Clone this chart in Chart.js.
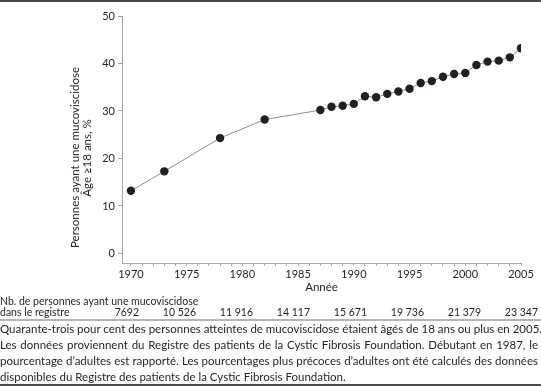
<!DOCTYPE html>
<html>
<head>
<meta charset="utf-8">
<script src="https://cdn.jsdelivr.net/npm/chart.js@4/dist/chart.umd.min.js"></script>
<style>
  html, body { margin: 0; padding: 0; background: #fff; }
  body { width: 541px; height: 386px; position: relative; overflow: hidden;
         font-family: "Lato", "Open Sans", sans-serif; color: #231f20; }
  #topline { position: absolute; left: 0; top: 0; width: 541px; height: 2px; background: #4a4a4a; }
  #wrap { position: absolute; left: 0; top: 0; width: 541px; height: 296px; }
  #ytitle { position: absolute; left: -9px; top: 146px; width: 180px; height: 24px;
            transform: rotate(-90deg); transform-origin: 90px 12px;
            white-space: nowrap; text-align: center; font-size: 11.5px; line-height: 12px; }
  .tbl { position: absolute; font-size: 10.5px; white-space: nowrap; line-height: 12px; }
  #sep { position: absolute; left: 0; top: 319px; width: 541px; height: 2px; background: #b5b5b5; }
  #para { position: absolute; left: 0; top: 321px; width: 538px; font-size: 11.5px; line-height: 16px; }
  #para div { text-align: justify; text-align-last: justify; white-space: nowrap; }
  #para div.last { text-align: left; text-align-last: left; }
  #botline { position: absolute; left: 0; top: 384px; width: 541px; height: 2px; background: #4a4a4a; }
</style>
</head>
<body>
<div id="topline"></div>
<div id="wrap"><canvas id="c" width="541" height="296"></canvas></div>
<div id="ytitle">Personnes ayant une mucoviscidose<br>Âge ≥18 ans, %</div>
<div id="table"></div>
<div id="sep"></div>
<div id="para">
  <div>Quarante-trois pour cent des personnes atteintes de mucoviscidose étaient âgés de 18 ans ou plus en 2005.</div>
  <div>Les données proviennent du Registre des patients de la Cystic Fibrosis Foundation. Débutant en 1987, le</div>
  <div>pourcentage d’adultes est rapporté. Les pourcentages plus précoces d’adultes ont été calculés des données</div>
  <div class="last">disponibles du Registre des patients de la Cystic Fibrosis Foundation.</div>
</div>
<div id="botline"></div>
<script>
// ---- data ----
const years = [1970, 1973, 1978, 1982, 1987, 1988, 1989, 1990, 1991, 1992, 1993, 1994, 1995, 1996, 1997, 1998, 1999, 2000, 2001, 2002, 2003, 2004, 2005];
const adultPct = [13.2, 17.3, 24.3, 28.2, 30.2, 30.9, 31.1, 31.5, 33.1, 32.9, 33.6, 34.1, 34.7, 35.9, 36.3, 37.2, 37.8, 38.0, 39.7, 40.4, 40.6, 41.3, 43.2];
const xTickYears = [1970, 1975, 1980, 1985, 1990, 1995, 2000, 2005];
const yTickValues = [0, 10, 20, 30, 40, 50];
const registryCounts = [7692, 10526, 11916, 14117, 15671, 19736, 21379, 23347];
const tableLabel = ['Nb. de personnes ayant une mucoviscidose', 'dans le registre'];
const xTitle = 'Année';

// ---- table (HTML text) ----
function fmt(n) {
  const s = String(n);
  return s.length > 4 ? s.slice(0, s.length - 3) + ' ' + s.slice(-3) : s;
}
const table = document.getElementById('table');
function addSpan(text, style) {
  const d = document.createElement('div');
  d.className = 'tbl';
  d.textContent = text;
  Object.assign(d.style, style);
  table.appendChild(d);
}
addSpan(tableLabel[0], { left: '0px', top: '295px' });
addSpan(tableLabel[1], { left: '0px', top: '306px' });
registryCounts.forEach((n, i) => {
  const right = 538 - (registryCounts.length - 1 - i) * 57;
  addSpan(fmt(n), { right: (541 - right) + 'px', top: '306px' });
});

// ---- chart ----
const points = years.map((y, i) => ({ x: y, y: adultPct[i] }));
const axisColor = '#a7a7a7';
const tickFont = { family: 'Lato', size: 11 };

new Chart(document.getElementById('c'), {
  type: 'line',
  data: {
    datasets: [{
      data: points,
      borderColor: '#8c8c8c',
      borderWidth: 1,
      pointBackgroundColor: '#231f20',
      pointBorderColor: '#231f20',
      pointRadius: 4.2,
      pointBorderWidth: 0,
      tension: 0
    }]
  },
  options: {
    responsive: false,
    animation: false,
    devicePixelRatio: 1,
    layout: { padding: { left: 0, top: 16, right: 20, bottom: 0 } },
    plugins: { legend: { display: false }, tooltip: { enabled: false } },
    scales: {
      x: {
        type: 'linear',
        min: 1969.2,
        max: 2005,
        afterBuildTicks: (s) => {
          const t = [];
          for (let v = xTickYears[0]; v <= xTickYears[xTickYears.length - 1]; v++) t.push({ value: v });
          s.ticks = t;
        },
        afterFit: (s) => { s.height = 33; },
        ticks: {
          autoSkip: false,
          maxRotation: 0,
          padding: 2,
          color: '#231f20',
          font: tickFont,
          callback: (v) => xTickYears.includes(v) ? String(v) : ''
        },
        grid: { drawOnChartArea: false, drawTicks: true, tickLength: 3, color: axisColor, lineWidth: 1 },
        border: { display: true, color: axisColor, width: 1 },
        title: { display: true, text: xTitle, color: '#231f20', font: { family: 'Lato', size: 11.5, lineHeight: 1.0 }, padding: { top: 0, bottom: 3 } }
      },
      y: {
        type: 'linear',
        min: -2,
        max: 50,
        afterBuildTicks: (s) => { s.ticks = yTickValues.map(v => ({ value: v })); },
        afterFit: (s) => { s.width = 122; },
        ticks: { padding: 3, color: '#231f20', font: tickFont },
        grid: { drawOnChartArea: false, drawTicks: true, tickLength: 4, color: axisColor, lineWidth: 1 },
        border: { display: true, color: axisColor, width: 1 }
      }
    }
  }
});
</script>
</body>
</html>
